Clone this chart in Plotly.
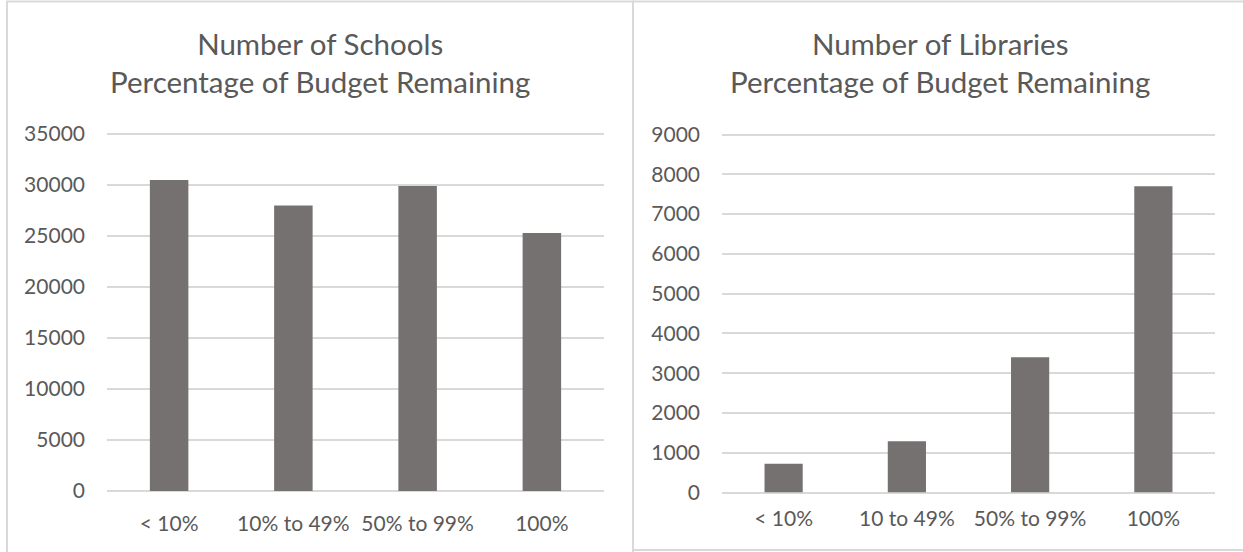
import plotly.graph_objects as go

W, H = 1243, 552

categories_schools = ["< 10%", "10% to 49%", "50% to 99%", "100%"]
schools = [30500, 28000, 29900, 25300]

categories_libraries = ["< 10%", "10 to 49%", "50% to 99%", "100%"]
libraries = [720, 1290, 3400, 7700]

title_schools = "Number of Schools<br>Percentage of Budget Remaining"
title_libraries = "Number of Libraries<br>Percentage of Budget Remaining"

BAR = "#767171"
GRID = "#D9D9D9"
TXT = "#595959"
FONT = "Lato"

fig = go.Figure()
fig.add_trace(go.Bar(x=categories_schools, y=schools, marker_color=BAR,
                     marker_line_width=0, xaxis="x", yaxis="y", showlegend=False))
fig.add_trace(go.Bar(x=categories_libraries, y=libraries, marker_color=BAR,
                     marker_line_width=0, xaxis="x2", yaxis="y2", showlegend=False))


def px_x(v):
    return v / W


def px_y(v):
    return 1 - v / H


EXT = 1.01  # small headroom so the top gridline is drawn


def ydomain(zero_px, top_px):
    top = zero_px - (zero_px - top_px) * EXT
    return [px_y(zero_px), px_y(top)]


def xaxis_cfg(domain, anchor, standoff):
    return dict(domain=domain, anchor=anchor, showgrid=False, showline=False, ticks="",
                tickfont=dict(size=21, color=TXT, family=FONT), automargin=False,
                ticklabelstandoff=standoff, fixedrange=True)


def yaxis_cfg(domain, anchor, top, step):
    return dict(domain=domain, anchor=anchor, range=[0, top * EXT], dtick=step, tick0=0,
                tickformat="d", showgrid=True, gridcolor=GRID, gridwidth=1.6,
                zeroline=True, zerolinecolor=GRID, zerolinewidth=1.6, showline=False,
                ticks="", tickfont=dict(size=21, color=TXT, family=FONT), automargin=False,
                ticklabelstandoff=21, fixedrange=True)


fig.update_layout(
    width=W, height=H, autosize=False,
    margin=dict(l=0, r=0, t=0, b=0, pad=0, autoexpand=False),
    paper_bgcolor="white", plot_bgcolor="white",
    bargap=0.69,
    showlegend=False,
    font=dict(family=FONT, color=TXT),
    xaxis=xaxis_cfg([px_x(107), px_x(604)], "y", 18),
    yaxis=yaxis_cfg(ydomain(491, 134), "x", 35000, 5000),
    xaxis2=xaxis_cfg([px_x(722), px_x(1215)], "y2", 11),
    yaxis2=yaxis_cfg(ydomain(492.5, 134.5), "x2", 9000, 1000),
)

# chart frames
fig.add_shape(type="rect", xref="paper", yref="paper",
              x0=px_x(7), x1=px_x(633), y0=px_y(570), y1=px_y(1.5),
              line=dict(color=GRID, width=2), fillcolor="rgba(0,0,0,0)", layer="below")
fig.add_shape(type="rect", xref="paper", yref="paper",
              x0=px_x(633), x1=px_x(1260), y0=px_y(550), y1=px_y(1.5),
              line=dict(color=GRID, width=2), fillcolor="rgba(0,0,0,0)", layer="below")

for txt, cx in [(title_schools, 320), (title_libraries, 940)]:
    fig.add_annotation(text=txt, xref="paper", yref="paper", x=px_x(cx), y=px_y(62),
                       xanchor="center", yanchor="middle", showarrow=False,
                       font=dict(size=29.5, color=TXT, family=FONT), align="center")

fig.write_html("out.html", config={"displayModeBar": False, "responsive": False},
               post_script="document.body.style.margin='0';")
